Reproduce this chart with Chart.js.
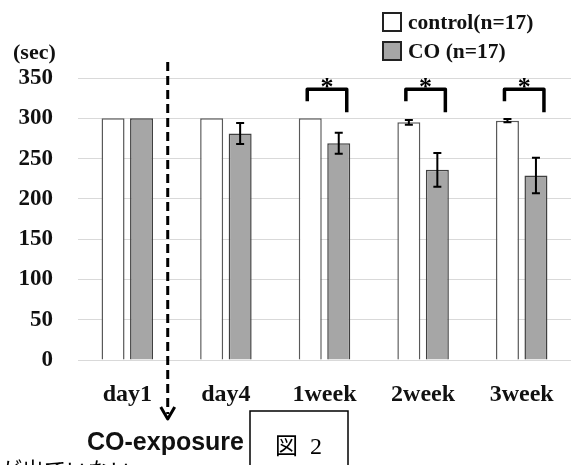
<!DOCTYPE html>
<html lang="ja">
  <head>
    <meta charset="UTF-8" />
    <title>図2</title>
    <script src="https://cdn.jsdelivr.net/npm/chart.js"></script>
    <style>
      body { margin: 0; background: #fff; }
    </style>
  </head>
  <body>
    <canvas id="fig2" width="571" height="465"></canvas>

    <script>
      // data (sec)
      const categories = ["day1", "day4", "1week", "2week", "3week"];
      const controlValues = [300, 300, 300, 295, 297];
      const controlErrors = [0, 0, 0, 3, 2];
      const coValues = [300, 281, 269, 236, 229];
      const coErrors = [0, 13, 13, 21, 22];
      const significant = [false, false, true, true, true];
      const yTicks = [0, 50, 100, 150, 200, 250, 300, 350];

      const serifBold = "'Liberation Serif', 'Times New Roman', serif";
      const errors = [controlErrors, coErrors];
      const values = [controlValues, coValues];

      // error bars, brackets, arrow, legend, captions
      const extras = {
        id: "extras",
        afterDatasetsDraw(chart) {
          const ctx = chart.ctx;
          const y = chart.scales.y;
          ctx.save();
          ctx.strokeStyle = "#000";
          ctx.lineWidth = 2;
          [0, 1].forEach((di) => {
            chart.getDatasetMeta(di).data.forEach((bar, i) => {
              const err = errors[di][i];
              if (!err) return;
              const v = values[di][i];
              const yTop = y.getPixelForValue(v + err);
              const yBot = y.getPixelForValue(v - err);
              ctx.beginPath();
              ctx.moveTo(bar.x, yTop);
              ctx.lineTo(bar.x, yBot);
              ctx.moveTo(bar.x - 4, yTop);
              ctx.lineTo(bar.x + 4, yTop);
              ctx.moveTo(bar.x - 4, yBot);
              ctx.lineTo(bar.x + 4, yBot);
              ctx.stroke();
            });
          });

          // significance brackets
          const ctrlBars = chart.getDatasetMeta(0).data;
          const coBars = chart.getDatasetMeta(1).data;
          ctx.lineWidth = 3.5;
          ctx.lineJoin = "round";
          significant.forEach((sig, i) => {
            if (!sig) return;
            const x1 = ctrlBars[i].x - 3;
            const x2 = coBars[i].x + 8;
            const top = y.getPixelForValue(336);
            ctx.beginPath();
            ctx.moveTo(x1, top + 12);
            ctx.lineTo(x1, top);
            ctx.lineTo(x2, top);
            ctx.lineTo(x2, top + 23);
            ctx.stroke();
            ctx.fillStyle = "#000";
            ctx.font = "bold 26px " + serifBold;
            ctx.textAlign = "center";
            ctx.textBaseline = "alphabetic";
            ctx.fillText("*", (x1 + x2) / 2, top + 6);
          });

          // dashed arrow: start of CO exposure
          const xs = chart.scales.x;
          const ax = xs.getPixelForValue(0) + 0.41 * (xs.getPixelForValue(1) - xs.getPixelForValue(0));
          ctx.lineWidth = 3;
          ctx.setLineDash([9, 5]);
          ctx.beginPath();
          ctx.moveTo(ax, 62);
          ctx.lineTo(ax, 414);
          ctx.stroke();
          ctx.setLineDash([]);
          ctx.beginPath();
          ctx.moveTo(ax - 7, 407);
          ctx.lineTo(ax, 419);
          ctx.lineTo(ax + 7, 407);
          ctx.stroke();
          ctx.restore();
        },
        afterDraw(chart) {
          const ctx = chart.ctx;
          ctx.save();
          // legend
          chart.data.datasets.forEach((ds, i) => {
            const top = 13 + i * 29;
            ctx.fillStyle = ds.backgroundColor;
            ctx.fillRect(383, top, 18, 18);
            ctx.strokeStyle = "#222";
            ctx.lineWidth = 2;
            ctx.strokeRect(383, top, 18, 18);
            ctx.fillStyle = "#111";
            ctx.font = "bold 21.5px " + serifBold;
            ctx.textAlign = "left";
            ctx.textBaseline = "alphabetic";
            ctx.fillText(ds.label, 408, top + 16);
          });

          // unit
          ctx.font = "bold 22px " + serifBold;
          ctx.fillText("(sec)", 13, 59);

          // caption under the arrow
          ctx.font = "bold 25px 'Liberation Sans', Arial, sans-serif";
          ctx.fillStyle = "#111";
          ctx.fillText("CO-exposure", 87, 450);

          // figure box
          ctx.strokeStyle = "#000";
          ctx.lineWidth = 1.5;
          ctx.strokeRect(250, 411, 98, 70);
          ctx.fillStyle = "#000";
          ctx.font = "23px 'Noto Sans CJK JP', serif";
          ctx.fillText("図", 275, 454);
          ctx.font = "24px " + serifBold;
          ctx.fillText("2", 310, 454);

          // cut-off line of text below the figure
          ctx.font = "22px 'Noto Sans CJK JP', sans-serif";
          ctx.textBaseline = "top";
          ctx.fillText("が出ていない", 0, 459);
          ctx.restore();
        },
      };

      new Chart(document.getElementById("fig2"), {
        type: "bar",
        data: {
          labels: categories,
          datasets: [
            {
              label: "control(n=17)",
              data: controlValues,
              backgroundColor: "#ffffff",
              borderColor: "#595959",
              borderWidth: 1.5,
            },
            {
              label: "CO (n=17)",
              data: coValues,
              backgroundColor: "#a6a6a6",
              borderColor: "#404040",
              borderWidth: 1.5,
            },
          ],
        },
        options: {
          responsive: false,
          animation: false,
          categoryPercentage: 0.578,
          barPercentage: 0.807,
          layout: { padding: { top: 78, right: 0, bottom: 0, left: 0 } },
          plugins: {
            legend: { display: false },
            tooltip: { enabled: false },
          },
          scales: {
            x: {
              grid: { display: false },
              border: { color: "#d9d9d9" },
              ticks: {
                color: "#111",
                padding: 12,
                font: { family: serifBold, weight: "bold", size: 24 },
              },
              afterFit: (scale) => {
                scale.height = 105;
              },
            },
            y: {
              min: 0,
              max: 350,
              afterBuildTicks: (scale) => {
                scale.ticks = yTicks.map((v) => ({ value: v }));
              },
              grid: { color: "#d9d9d9", drawTicks: false },
              border: { display: false },
              ticks: {
                color: "#111",
                padding: 25,
                font: { family: serifBold, weight: "bold", size: 23 },
              },
              afterFit: (scale) => {
                scale.width = 78;
              },
            },
          },
        },
        plugins: [extras],
      });
    </script>
  </body>
</html>
